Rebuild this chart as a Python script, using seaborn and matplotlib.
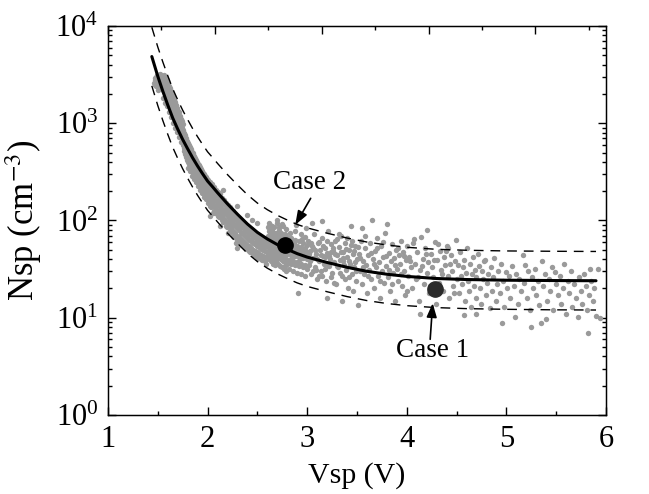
import matplotlib
matplotlib.use("Agg")
import matplotlib.pyplot as plt
import matplotlib.ticker as mticker
import pandas as pd
import seaborn as sns

# fitted curve (solid) and the x2 / x0.5 bounds (dashed)
curve_x = [1.44, 1.50, 1.55, 1.60, 1.65, 1.70, 1.75, 1.80, 1.85, 1.90, 1.95, 2.00,
           2.05, 2.10, 2.20, 2.30, 2.40, 2.50, 2.60, 2.70, 2.80, 2.90, 3.00, 3.20,
           3.40, 3.60, 3.80, 4.00, 4.30, 4.60, 5.00, 5.50, 5.90]
curve_mid = [4850, 3040, 2140, 1540, 1130, 870, 680, 545, 440, 362, 302, 254,
             222, 193, 148, 116, 92, 75.5, 64.5, 56.5, 50.5, 45.6, 42, 37,
             33, 30, 28, 26.6, 25.3, 24.7, 24.3, 24.1, 24]
curve_up = [9700, 6080, 4280, 3080, 2260, 1740, 1360, 1090, 880, 724, 604, 508,
            444, 386, 296, 232, 184, 151, 129, 113, 101, 91, 84, 74,
            66, 60, 56, 53, 50.5, 49.4, 48.6, 48.2, 48]
curve_lo = [2425, 1520, 1070, 770, 565, 435, 340, 272, 220, 181, 151, 127,
            111, 96.5, 74, 58, 46, 37.8, 32.3, 28.3, 25.3, 22.8, 21, 18.5,
            16.5, 15, 14, 13.3, 12.7, 12.4, 12.2, 12.05, 12]

# measured samples, dense band (x, list of y at that x)
steep_x = [1.46, 1.47, 1.48, 1.49, 1.50, 1.51, 1.52, 1.53, 1.54, 1.55, 1.56, 1.57, 1.58, 1.59, 1.60,
           1.61, 1.62, 1.63, 1.64, 1.65, 1.66, 1.67, 1.68, 1.69, 1.70, 1.71, 1.72, 1.73, 1.74, 1.75]
steep_y = [[2600], [2500, 2900], [3000, 2400], [3100, 2700], [2200, 3000, 2600], [3100, 2800],
           [2900, 3200, 2500], [2700, 3100, 2400], [2600, 3000, 2300], [2500, 3000, 2200, 1800],
           [2900, 2300, 3100], [2700, 2200, 3000, 1600], [2500, 2100, 2900], [2400, 1900, 2800, 1500],
           [2200, 1800, 2600], [2100, 1700, 2400, 1300], [1950, 1600, 2300], [1850, 1500, 2150, 1150],
           [1700, 1400, 2000], [1600, 1300, 1900, 1000], [1500, 1250, 1750], [1450, 1200, 1650, 900],
           [1350, 1100, 1550], [1300, 1050, 1450, 820], [1200, 1000, 1350], [1100, 950, 1300, 720],
           [1050, 900, 1200], [950, 850, 1100, 640], [900, 800, 1050], [850, 760, 980, 600]]

knee_x = [1.76, 1.77, 1.78, 1.79, 1.80, 1.81, 1.82, 1.83, 1.84, 1.85, 1.86, 1.87, 1.88,
          1.89, 1.90, 1.91, 1.92, 1.93, 1.94, 1.95, 1.96, 1.97, 1.98, 1.99, 2.00]
knee_y = [[720, 600, 520, 800], [680, 560, 480, 750], [650, 530, 450, 700], [610, 500, 420, 660],
          [580, 480, 400, 630, 350], [550, 450, 380, 600], [520, 430, 360, 570, 320],
          [500, 410, 340, 540], [470, 390, 330, 510, 290], [450, 370, 310, 490],
          [430, 350, 300, 460, 270], [410, 340, 285, 440], [390, 320, 270, 420, 250],
          [370, 305, 260, 400], [355, 295, 250, 385, 225], [340, 280, 240, 370],
          [325, 270, 230, 355, 205], [310, 260, 220, 340], [300, 250, 210, 325, 190],
          [290, 240, 200, 310], [275, 230, 195, 300, 175], [265, 220, 185, 290],
          [255, 212, 180, 280, 165], [245, 205, 172, 268], [238, 198, 165, 258, 150]]

slope_x = [2.02, 2.04, 2.06, 2.08, 2.10, 2.12, 2.14, 2.16, 2.18, 2.20, 2.22, 2.24, 2.26, 2.28, 2.30,
           2.32, 2.34, 2.36, 2.38, 2.40, 2.42, 2.44, 2.46, 2.48, 2.50, 2.52, 2.54, 2.56, 2.58, 2.60]
slope_y = [[230, 190, 160, 250, 140], [215, 180, 150, 235], [200, 168, 140, 222, 125],
           [190, 158, 132, 208], [178, 148, 125, 195, 112], [168, 140, 118, 185],
           [158, 132, 110, 172, 100], [148, 124, 104, 162], [140, 117, 98, 152, 88],
           [132, 110, 93, 145], [124, 104, 88, 138, 78], [117, 98, 83, 130],
           [110, 92, 78, 124, 70], [104, 87, 74, 117], [98, 83, 70, 111, 63],
           [93, 79, 67, 105], [89, 75, 64, 100, 58], [85, 72, 61, 95],
           [81, 69, 58, 91, 53], [78, 66, 56, 88], [75, 63, 54, 84, 49], [72, 61, 52, 81],
           [69, 59, 50, 78, 46], [67, 57, 48, 75], [64, 55, 47, 72, 42], [62, 53, 45, 70],
           [60, 51, 44, 68, 40], [58, 50, 43, 66], [56, 48, 42, 64, 38], [55, 47, 41, 62]]

tail_x = [2.61, 2.62, 2.63, 2.64, 2.65, 2.66, 2.67, 2.68, 2.69, 2.70, 2.71, 2.72, 2.73, 2.74, 2.75,
          2.76, 2.77, 2.78, 2.79, 2.80, 2.82, 2.84, 2.86, 2.88, 2.90, 2.92, 2.94, 2.96, 2.98, 3.00]
tail_y = [[70, 55, 45, 85], [62, 50, 78, 40], [66, 53, 44, 90], [58, 48, 72, 38], [64, 52, 42, 80],
          [56, 46, 68, 36], [61, 50, 40, 85], [54, 45, 66, 35], [58, 48, 75, 38], [52, 43, 63, 95],
          [56, 46, 70, 36], [50, 41, 60, 80], [54, 44, 66, 34], [48, 40, 58, 75], [52, 43, 64, 33],
          [47, 38, 57, 88], [50, 42, 62, 32], [46, 37, 55, 72], [49, 40, 60, 30], [45, 36, 54, 68],
          [48, 39, 58, 32], [44, 36, 52, 66], [47, 38, 57, 30], [43, 35, 51, 63, 78],
          [46, 37, 55, 29], [42, 34, 50, 61], [45, 36, 53, 28, 72], [41, 33, 48, 58],
          [44, 35, 52, 27, 68], [40, 32, 47, 56]]

# extra samples in between the columns above (paired x / y)
fill_x = [1.475, 1.485, 1.495, 1.505, 1.515, 1.525, 1.535, 1.545, 1.555, 1.565, 1.575, 1.585, 1.595,
          1.605, 1.615, 1.625, 1.635, 1.645, 1.655, 1.665, 1.675, 1.685, 1.695, 1.705, 1.715, 1.725,
          1.735, 1.745,
          1.755, 1.765, 1.775, 1.785, 1.795, 1.805, 1.815, 1.825, 1.835, 1.845, 1.855, 1.865, 1.875,
          1.885, 1.895, 1.905, 1.915, 1.925, 1.935, 1.945, 1.955, 1.965, 1.975, 1.985, 1.995,
          2.01, 2.03, 2.03, 2.05, 2.07, 2.07, 2.09, 2.11, 2.11, 2.13, 2.15, 2.15, 2.17, 2.19, 2.19,
          2.21, 2.23, 2.23, 2.25, 2.27, 2.27, 2.29, 2.31, 2.31, 2.33, 2.35, 2.35, 2.37, 2.39, 2.39,
          2.41, 2.43, 2.43, 2.45, 2.47, 2.47, 2.49, 2.51, 2.51, 2.53, 2.55, 2.55, 2.57, 2.59, 2.59,
          2.605, 2.615, 2.625, 2.635, 2.645, 2.655, 2.665, 2.675, 2.685, 2.695, 2.705, 2.715, 2.725,
          2.735, 2.745, 2.755, 2.765, 2.775, 2.785, 2.795, 2.81, 2.83, 2.85, 2.87, 2.89, 2.91, 2.93,
          2.95, 2.97, 2.99]
fill_y = [2800, 2450, 2900, 3100, 3100, 2700, 3000, 2800, 2700, 2500, 2400, 2150, 2000,
          1950, 1850, 1750, 1650, 1550, 1400, 1350, 1300, 1200, 1150, 1100, 1000, 980,
          920, 880,
          640, 560, 620, 470, 540, 420, 500, 390, 450, 350, 410, 320, 370,
          290, 340, 265, 310, 245, 285, 225, 262, 208, 240, 190, 222,
          175, 205, 138, 160, 182, 120, 145, 162, 108, 130, 150, 96, 118, 130, 86,
          108, 120, 76, 98, 108, 68, 90, 98, 62, 82, 90, 56, 76, 83, 51,
          70, 77, 47, 65, 72, 44, 60, 67, 41, 56, 63, 39, 53, 59, 36,
          60, 95, 72, 48, 88, 58, 75, 44, 62, 100, 48, 85, 56,
          40, 92, 60, 70, 34, 82, 52, 62, 75, 42, 58, 90, 50, 40,
          65, 47, 84]

# measured samples, sparse part (paired x / y)
spread_x = [2.02, 2.12, 2.30, 2.45, 2.50, 2.30, 2.20, 2.05, 2.15, 2.40, 2.29, 2.91, 3.20, 3.35,
            3.01, 3.02, 3.03, 3.04, 3.05, 3.06, 3.07, 3.08, 3.09, 3.10, 3.11, 3.12, 3.13, 3.14, 3.15,
            3.16, 3.17, 3.18, 3.19, 3.20, 3.21, 3.22, 3.23, 3.24, 3.25, 3.26, 3.27, 3.28, 3.29, 3.30,
            3.31, 3.32, 3.33, 3.34, 3.35, 3.36, 3.37, 3.38, 3.39, 3.40, 3.41, 3.42, 3.43, 3.44, 3.45,
            3.46, 3.47, 3.48, 3.49, 3.50,
            3.03, 3.06, 3.09, 3.12, 3.15, 3.18, 3.21, 3.24, 3.27, 3.30, 3.33, 3.36, 3.39, 3.42, 3.45,
            3.48, 3.05, 3.15, 3.55, 4.20,
            3.015, 3.035, 3.055, 3.075, 3.095, 3.115, 3.135, 3.155, 3.175, 3.195, 3.215, 3.235, 3.255,
            3.275, 3.295, 3.315, 3.335, 3.355, 3.375, 3.395, 3.415, 3.435, 3.455, 3.475, 3.495, 3.515,
            3.535, 3.565, 3.585, 3.615, 3.645, 3.675, 3.705, 3.735, 3.765, 3.795, 3.825, 3.855, 3.885,
            3.915, 3.945, 3.975, 4.005, 4.035, 4.075, 4.115, 4.155, 4.195, 4.235, 4.275, 4.315, 4.355,
            4.395, 4.435, 4.475,
            3.51, 3.52, 3.53, 3.54, 3.55, 3.56, 3.57, 3.58, 3.59, 3.60, 3.61, 3.62, 3.63, 3.64, 3.65,
            3.66, 3.67, 3.68, 3.69, 3.70, 3.71, 3.72, 3.73, 3.74, 3.75, 3.76, 3.77, 3.78, 3.79, 3.80,
            3.81, 3.82, 3.83, 3.84, 3.85, 3.86, 3.87, 3.88, 3.89, 3.90, 3.91, 3.92, 3.93, 3.94, 3.95,
            3.96, 3.97, 3.98, 3.99, 4.00,
            4.01, 4.02, 4.04, 4.05, 4.06, 4.08, 4.09, 4.10, 4.12, 4.13, 4.14, 4.16, 4.17, 4.18, 4.20,
            4.21, 4.22, 4.24, 4.25, 4.26, 4.28, 4.29, 4.30, 4.32, 4.33, 4.34, 4.36, 4.37, 4.38, 4.40,
            4.41, 4.42, 4.44, 4.45, 4.46, 4.48, 4.49, 4.50, 4.13, 4.41,
            4.51, 4.52, 4.53, 4.54, 4.55, 4.56, 4.57, 4.57, 4.58, 4.59, 4.60, 4.61, 4.62, 4.63, 4.64,
            4.65, 4.66, 4.67, 4.68, 4.69, 4.70, 4.70, 4.72, 4.73, 4.74, 4.75, 4.76, 4.77, 4.78, 4.79,
            4.80, 4.81, 4.82, 4.84, 4.85, 4.86, 4.87, 4.88, 4.90, 4.91, 4.92, 4.94, 4.95, 4.96, 4.97,
            4.98, 5.00, 5.01, 5.03, 5.04, 5.06, 5.08, 5.09, 5.10, 5.12, 5.13, 5.15, 5.17, 5.18, 5.19,
            5.21, 5.22, 5.24, 5.25, 5.26, 5.27, 5.29, 5.30, 5.32, 5.33, 5.35, 5.36, 5.37, 5.39, 5.40,
            5.41, 5.43, 5.44, 5.46, 5.47, 5.49, 5.50, 5.52, 5.54, 5.55, 5.57, 5.58, 5.60, 5.62, 5.63,
            5.65, 5.66, 5.68, 5.70, 5.72, 5.73, 5.75, 5.76, 5.78, 5.80, 5.81, 5.83, 5.84, 5.85, 5.82,
            5.87, 5.88, 5.90, 5.92, 5.94]
spread_y = [110, 88, 52, 100, 95, 140, 75, 120, 205, 115, 58, 18, 16, 15,
            62, 35, 48, 28, 55, 41, 72, 33, 45, 25, 58, 38, 50, 30, 66,
            43, 36, 52, 24, 46, 78, 34, 40, 57, 29, 48, 37, 62, 22, 44,
            33, 53, 39, 70, 27, 47, 35, 58, 31, 42, 20, 50, 36, 88, 28,
            45, 33, 55, 24, 40,
            38, 52, 31, 60, 27, 42, 35, 47, 23, 64, 29, 38, 51, 26, 62,
            37, 95, 98, 84, 80,
            45, 58, 30, 50, 40, 27, 44, 54, 32, 61, 43, 26, 52,
            45, 34, 73, 47, 41, 25, 66, 38, 56, 19, 48, 30, 53,
            41, 33, 70, 27, 46, 36, 52, 24, 60, 43, 31, 22, 35,
            52, 28, 43, 19, 38, 64, 26, 34, 45, 21, 39, 57, 28,
            48, 36, 18,
            13.5, 45, 30, 62, 22, 38, 28, 52, 35, 18, 44, 31, 58, 25, 100,
            40, 20, 48, 33, 66, 27, 37, 16, 54, 30, 42, 23, 75, 34, 93,
            26, 46, 19, 38, 57, 29, 41, 15, 50, 32, 24, 44, 36, 62, 21,
            47, 30, 17, 39, 55,
            27, 42, 33, 20, 58, 36, 25, 47, 15, 31, 68, 40, 22, 52, 29,
            37, 18, 45, 33, 26, 60, 14, 39, 23, 49, 31, 19, 42, 35, 55,
            27, 16, 44, 30, 21, 38, 63, 25, 10.9, 52,
            35, 18, 47, 27, 22, 33, 39, 10.7, 15, 29, 52, 24, 19, 36, 13,
            28, 42, 21, 31, 16, 11, 26, 45, 34, 20, 14, 30, 25, 38, 39,
            17, 23, 28, 12.5, 33, 19, 26, 41, 15, 22, 30, 18, 36, 8.9, 24,
            13, 29.8, 20, 27, 16, 34, 21, 10.1, 28, 14, 25, 19, 44, 23, 35,
            16, 30, 12, 8.1, 26, 20, 31.5, 17, 24, 13.5, 8.9, 38.6, 21, 28, 9.6,
            15, 25, 19, 33, 12, 29.8, 22, 17, 27, 14, 20, 36, 11, 24, 18,
            30, 13, 22, 16, 10.1, 26, 19, 14, 28, 21, 12, 17, 32, 24, 7.0,
            15, 20, 10.3, 32, 9.9]

case_x = [4.28, 2.78]
case_y = [19.6, 56]
case_names = ["Case 1", "Case 2"]
case_colors = ["#2b2b2b", "#000000"]

rows = []
for xs, ys in [(steep_x, steep_y), (knee_x, knee_y), (slope_x, slope_y), (tail_x, tail_y)]:
    for x, yl in zip(xs, ys):
        for y in yl:
            rows.append((x, y))
rows += list(zip(fill_x, fill_y))
rows += list(zip(spread_x, spread_y))
pts = pd.DataFrame(rows, columns=["v", "n"])

sns.set_style("ticks", {"axes.edgecolor": "black", "xtick.color": "black", "ytick.color": "black"})
plt.rcParams["font.family"] = ["Liberation Serif", "DejaVu Serif"]
plt.rcParams["mathtext.fontset"] = "stix"
plt.rcParams["text.color"] = "black"
plt.rcParams["axes.labelcolor"] = "black"

fig = plt.figure(figsize=(6.49, 4.94), dpi=100)
ax = fig.add_axes([0.1664, 0.16, 0.7673, 0.7874])

sns.scatterplot(data=pts, x="v", y="n", color="#9a9a9a", s=15, linewidth=0, ax=ax, legend=False)
sns.lineplot(x=curve_x, y=curve_up, color="black", lw=1.0, linestyle=(0, (7, 5)), estimator=None, ax=ax)
sns.lineplot(x=curve_x, y=curve_lo, color="black", lw=1.0, linestyle=(0, (7, 5)), estimator=None, ax=ax)
sns.lineplot(x=curve_x, y=curve_mid, color="black", lw=2.2, estimator=None, ax=ax)
for cx, cy, cc in zip(case_x, case_y, case_colors):
    ax.plot([cx], [cy], "o", color=cc, ms=11, zorder=5)

# labels + arrows
arrow = dict(arrowstyle="-|>,head_length=0.6,head_width=0.22", color="black",
             lw=1.2, mutation_scale=14, shrinkA=0, shrinkB=0)
ax.text(4.26, 4.6, case_names[0], fontsize=19.5, ha="center", va="center")
ax.annotate("", xy=(4.26, 14.1), xytext=(4.235, 6.0), arrowprops=arrow)
ax.text(3.02, 245, case_names[1], fontsize=19.5, ha="center", va="center")
ax.annotate("", xy=(2.88, 90), xytext=(3.035, 169), arrowprops=arrow)

ax.set_yscale("log")
ax.set_xlim(1, 6)
ax.set_ylim(1, 1e4)
ax.xaxis.set_major_locator(mticker.MultipleLocator(1))
ax.xaxis.set_minor_locator(mticker.MultipleLocator(0.5))
ax.yaxis.set_major_locator(mticker.LogLocator(base=10, numticks=10))
ax.yaxis.set_minor_locator(mticker.LogLocator(base=10, subs=range(2, 10), numticks=10))
ax.yaxis.set_minor_formatter(mticker.NullFormatter())
ax.tick_params(which="both", direction="in", top=False, right=True, width=1, labelsize=22)
ax.tick_params(which="major", length=6, pad=7)
ax.tick_params(which="minor", length=3)
for s in ax.spines.values():
    s.set_linewidth(1.0)

# top axis ticks use their own spacing in the original
axt = ax.twiny()
axt.set_xlim(1, 5.66)
axt.xaxis.set_major_locator(mticker.MultipleLocator(1))
axt.xaxis.set_minor_locator(mticker.MultipleLocator(0.5))
axt.tick_params(which="both", direction="in", top=True, bottom=False, labeltop=False, labelbottom=False, width=1)
axt.tick_params(which="major", length=6)
axt.tick_params(which="minor", length=3)

ax.set_xlabel("Vsp (V)", fontsize=21.5, labelpad=6)
ax.set_ylabel("Nsp (cm$^{-3}$)", fontsize=25, labelpad=8)

fig.savefig("out.png", dpi=100)
